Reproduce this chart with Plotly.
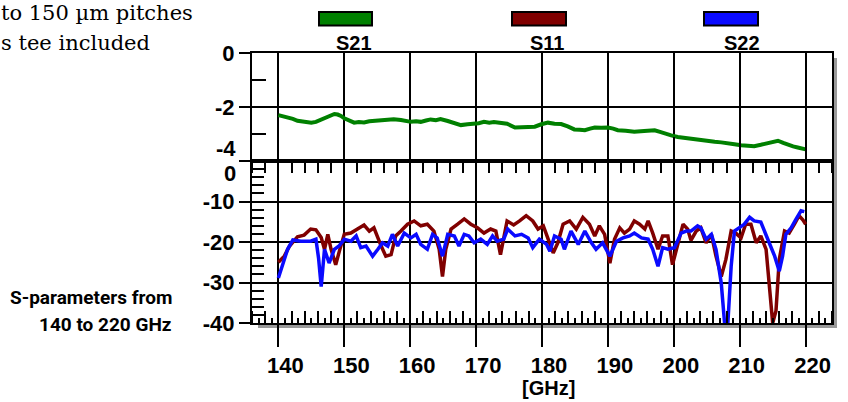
import plotly.graph_objects as go
from plotly.subplots import make_subplots

# ---------------- data ----------------
freq_s21 = [140.0, 140.7, 141.4, 142.2, 142.9, 143.6, 144.4, 145.0, 145.7, 146.3, 147.0, 147.7,
            148.5, 149.0, 149.5, 150.0, 150.7, 151.5, 152.2, 153.0, 153.8, 154.5, 155.5, 156.6,
            157.5, 158.6, 159.3, 160.1, 160.9, 161.6, 162.4, 163.1, 163.9, 164.6, 165.7, 166.7,
            167.7, 168.7, 169.7, 170.4, 171.2, 172.0, 172.7, 173.8, 174.7, 175.9, 176.8, 177.9,
            178.9, 179.9, 180.9, 181.9, 182.9, 183.9, 184.9, 185.7, 186.5, 187.3, 188.0, 189.0,
            190.0, 190.8, 191.5, 192.7, 194.0, 195.5, 197.1, 197.9, 198.6, 199.6, 200.6, 201.4,
            202.1, 203.1, 204.1, 205.2, 206.2, 207.2, 208.2, 209.2, 210.2, 211.2, 212.2, 213.2,
            214.2, 215.0, 215.8, 216.6, 217.3, 218.1, 218.8, 219.4, 220.0]
s21 = [-2.30, -2.34, -2.38, -2.44, -2.51, -2.54, -2.57, -2.58, -2.55, -2.49, -2.42, -2.37,
       -2.26, -2.28, -2.33, -2.42, -2.50, -2.58, -2.56, -2.57, -2.53, -2.52, -2.49, -2.48,
       -2.45, -2.48, -2.52, -2.55, -2.53, -2.55, -2.50, -2.46, -2.49, -2.45, -2.52, -2.60,
       -2.67, -2.64, -2.63, -2.60, -2.55, -2.58, -2.56, -2.61, -2.62, -2.76, -2.74, -2.72,
       -2.73, -2.64, -2.58, -2.62, -2.63, -2.72, -2.83, -2.84, -2.86, -2.80, -2.76, -2.77,
       -2.76, -2.80, -2.86, -2.88, -2.92, -2.89, -2.86, -2.92, -2.98, -3.05, -3.11, -3.14,
       -3.17, -3.20, -3.23, -3.26, -3.29, -3.31, -3.33, -3.38, -3.42, -3.44, -3.45, -3.40,
       -3.35, -3.30, -3.25, -3.33, -3.40, -3.46, -3.50, -3.53, -3.57]

freq_s11 = [140.0, 140.5, 140.9, 141.7, 142.9, 143.9, 144.9, 145.7, 146.5, 147.0, 147.5, 148.0,
            148.7, 149.3, 150.0, 151.0, 152.0, 153.0, 153.8, 154.5, 155.6, 156.3, 157.1, 157.8,
            158.6, 159.6, 160.6, 161.6, 162.6, 163.6, 164.4, 164.9, 165.4, 166.2, 167.2, 168.2,
            169.2, 170.2, 171.2, 172.2, 173.0, 173.7, 174.7, 175.7, 176.6, 177.6, 178.6, 179.4,
            180.2, 180.9, 181.7, 182.4, 183.2, 184.2, 185.2, 186.2, 187.2, 188.0, 188.7, 189.5,
            190.3, 191.0, 191.8, 192.5, 193.3, 194.0, 194.8, 195.6, 196.1, 196.8, 197.6, 198.3,
            199.1, 199.8, 200.6, 201.4, 202.1, 202.6, 203.4, 204.1, 204.9, 205.7, 206.4, 207.2,
            207.9, 208.7, 209.4, 210.2, 210.9, 211.7, 212.5, 213.2, 214.0, 214.5, 215.0, 215.5,
            216.0, 216.8, 217.5, 218.3, 219.0, 219.6, 220.0]
s11 = [-25.0, -24.0, -23.5, -21.0, -18.7, -18.3, -16.8, -17.0, -18.9, -21.8, -18.1, -21.8,
       -25.6, -22.0, -18.1, -17.8, -16.8, -15.8, -17.3, -16.5, -21.0, -23.5, -23.1, -18.5,
       -17.3, -15.6, -14.8, -16.0, -15.6, -17.3, -21.8, -28.5, -21.8, -16.8, -15.6, -14.3,
       -15.6, -16.5, -17.8, -16.8, -17.3, -23.1, -14.8, -15.8, -14.8, -13.5, -14.8, -16.8,
       -16.0, -19.3, -22.7, -20.2, -15.6, -14.8, -16.8, -13.9, -15.6, -18.5, -16.0, -18.1,
       -25.2, -19.3, -16.5, -17.8, -16.8, -14.8, -15.6, -16.8, -14.8, -17.8, -21.8, -18.5,
       -18.5, -25.6, -20.2, -15.6, -16.8, -19.6, -17.3, -16.5, -20.2, -18.1, -23.5, -28.5,
       -24.3, -17.3, -17.8, -19.0, -15.6, -15.6, -20.2, -18.5, -21.8, -30.2, -40.0, -37.0,
       -24.3, -17.3, -17.8, -15.6, -13.5, -14.6, -15.6]

freq_s22 = [140.0, 140.7, 141.4, 142.2, 143.4, 144.9, 145.7, 146.1, 146.5, 147.0, 147.7, 148.5,
            149.2, 150.0, 151.0, 151.8, 152.5, 153.3, 154.3, 155.1, 155.8, 156.6, 157.3, 158.1,
            159.1, 160.1, 160.9, 161.6, 162.6, 163.4, 164.1, 164.9, 165.7, 166.7, 167.4, 168.2,
            168.9, 169.7, 170.7, 171.7, 172.5, 173.2, 174.2, 174.8, 175.9, 176.9, 177.9, 178.6,
            179.6, 180.7, 181.2, 181.9, 182.9, 183.4, 184.4, 185.5, 186.5, 187.5, 188.2, 189.2,
            190.3, 191.3, 192.3, 193.3, 194.0, 195.1, 196.1, 196.8, 197.6, 198.3, 199.1, 200.1,
            201.1, 201.9, 202.6, 203.6, 204.1, 204.9, 205.7, 206.4, 207.2, 207.7, 208.2, 208.7,
            209.2, 209.9, 210.7, 211.5, 212.2, 213.2, 214.0, 214.7, 215.3, 216.0, 216.5, 217.0,
            217.8, 218.5, 219.3, 219.8]
s22 = [-28.9, -25.6, -21.8, -19.5, -19.8, -19.8, -19.3, -24.0, -31.0, -21.8, -25.2, -21.8,
       -21.0, -19.3, -19.8, -18.5, -21.4, -21.0, -23.5, -21.8, -20.2, -21.0, -18.1, -21.0,
       -17.8, -19.0, -18.1, -20.6, -21.8, -18.1, -19.0, -23.5, -18.1, -18.5, -21.0, -18.1,
       -18.5, -20.2, -19.3, -20.6, -18.5, -19.8, -19.3, -16.8, -18.5, -18.1, -19.0, -21.4,
       -19.3, -20.6, -22.3, -18.5, -19.3, -21.8, -17.3, -20.6, -17.3, -20.2, -21.8, -20.2,
       -23.5, -19.8, -19.0, -18.5, -17.8, -19.0, -19.3, -21.8, -26.0, -21.4, -21.8, -21.4,
       -17.8, -17.3, -17.3, -16.0, -16.5, -19.3, -18.1, -21.8, -30.2, -40.0, -40.0, -26.0,
       -17.3, -16.5, -15.6, -13.9, -14.8, -15.1, -18.5, -21.0, -23.5, -27.2, -23.5, -18.1,
       -16.5, -14.5, -12.3, -12.5]

series_names = ["S21", "S11", "S22"]
series_colors = ["#008000", "#800000", "#0a0aff"]

x_range = [136, 224]
x_tickvals = [140, 150, 160, 170, 180, 190, 200, 210, 220]
x_ticktext = ["140", "150", "160", "170", "180", "190", "200", "210", "220"]
x_minor_2ghz = [136 + 2 * i for i in range(45)]
x_minor_1ghz = [136 + i for i in range(89)]

top_range = [-4, 0]
top_tickvals = [0, -2, -4]
top_ticktext = ["0", "-2", ""]
top_minor = [-1, -3]

bot_range = [-40, 0]
bot_tickvals = [0, -10, -20, -30, -40]
bot_ticktext = ["", "-10", "-20", "-30", "-40"]
bot_minor = [-2 * i for i in range(1, 20) if (2 * i) % 10 != 0]

# ---------------- layout geometry ----------------
W, H = 848, 402
L, R, T, B = 252, 16, 53, 79
PW, PH = W - L - R, H - T - B


def px(x):
    return (x - L) / PW


def py(y):
    return (H - B - y) / PH


FONT = "Liberation Sans, Arial, sans-serif"

fig = make_subplots(rows=2, cols=1, shared_xaxes=True, vertical_spacing=0,
                    row_heights=[0.4, 0.6])

fig.add_trace(go.Scatter(x=freq_s21, y=s21, mode="lines", name=series_names[0],
                         line=dict(color=series_colors[0], width=4)), row=1, col=1)
fig.add_trace(go.Scatter(x=freq_s11, y=s11, mode="lines", name=series_names[1],
                         line=dict(color=series_colors[1], width=3.5)), row=2, col=1)
fig.add_trace(go.Scatter(x=freq_s22, y=s22, mode="lines", name=series_names[2],
                         line=dict(color=series_colors[2], width=3.5)), row=2, col=1)
# carrier for the fine 1 GHz tick axis
fig.add_trace(go.Scatter(x=[], y=[], xaxis="x3", yaxis="y2", showlegend=False))

grid = dict(showgrid=True, gridcolor="black", gridwidth=2, zeroline=False,
            showline=True, linecolor="black", linewidth=2)

fig.update_layout(
    width=W, height=H, margin=dict(l=L, r=R, t=T, b=B),
    paper_bgcolor="white", plot_bgcolor="white", showlegend=False,
    xaxis=dict(range=x_range, tickmode="array", tickvals=x_tickvals,
               showticklabels=False, ticks="", mirror=True, **grid),
    xaxis2=dict(range=x_range, tickmode="array", tickvals=x_tickvals, ticktext=x_ticktext,
                ticks="outside", ticklen=22, tickwidth=2, tickcolor="black",
                ticklabelshift=7, ticklabelstandoff=0,
                tickfont=dict(family=FONT, size=22, color="black", weight="bold"),
                mirror="ticks",
                minor=dict(tickmode="array", tickvals=x_minor_2ghz, ticks="inside",
                           ticklen=12, tickwidth=2, tickcolor="black", showgrid=False),
                **grid),
    xaxis3=dict(range=x_range, overlaying="x2", anchor="y2", side="bottom",
                tickmode="array", tickvals=x_minor_1ghz, ticks="inside", ticklen=5,
                tickwidth=1.5, tickcolor="black", showticklabels=False,
                showgrid=False, zeroline=False, showline=False),
    yaxis=dict(range=top_range, tickmode="array", tickvals=top_tickvals, ticktext=top_ticktext,
               ticks="outside", ticklen=11, tickwidth=2, tickcolor="black",
               tickfont=dict(family=FONT, size=22, color="black", weight="bold"),
               minor=dict(tickmode="array", tickvals=top_minor, ticks="inside", ticklen=14,
                          tickwidth=2, tickcolor="black", showgrid=False),
               mirror=True, **grid),
    yaxis2=dict(range=bot_range, tickmode="array", tickvals=bot_tickvals, ticktext=bot_ticktext,
                ticks="outside", ticklen=11, tickwidth=2, tickcolor="black",
                tickfont=dict(family=FONT, size=22, color="black", weight="bold"),
                minor=dict(tickmode="array", tickvals=bot_minor, ticks="inside", ticklen=12,
                           tickwidth=2, tickcolor="black", showgrid=False),
                mirror=True, **grid),
)

shapes = []
# drop shadow of the plot frame
shadow = "#9a9a9a"
shapes.append(dict(type="rect", xref="paper", yref="paper", layer="below",
                   x0=1 + 1 / PW, x1=1 + 5 / PW, y0=-5 / PH, y1=1 - 5 / PH,
                   fillcolor=shadow, line=dict(width=0)))
shapes.append(dict(type="rect", xref="paper", yref="paper", layer="below",
                   x0=6 / PW, x1=1 + 5 / PW, y0=-5 / PH, y1=-1 / PH,
                   fillcolor=shadow, line=dict(width=0)))

# legend swatches + labels
legend_rects = [(319, 372), (512, 566), (704, 758)]
legend_label_x = [354, 547, 742]
annotations = []
for name, col, (a, b), lx in zip(series_names, series_colors, legend_rects, legend_label_x):
    shapes.append(dict(type="rect", xref="paper", yref="paper",
                       x0=px(a), x1=px(b), y0=py(25.5), y1=py(12),
                       fillcolor=col, line=dict(color="black", width=2)))
    annotations.append(dict(text=name, xref="paper", yref="paper", x=px(lx), y=py(43),
                            xanchor="center", yanchor="middle", showarrow=False,
                            font=dict(family=FONT, size=20, color="black", weight="bold")))

# edge y labels that are nudged inside the frame
annotations.append(dict(text="-4", xref="paper", yref="y", x=0, y=-4, xshift=-14, yshift=13,
                        xanchor="right", yanchor="middle", showarrow=False,
                        font=dict(family=FONT, size=22, color="black", weight="bold")))
annotations.append(dict(text="0", xref="paper", yref="y2", x=0, y=0, xshift=-14, yshift=-12,
                        xanchor="right", yanchor="middle", showarrow=False,
                        font=dict(family=FONT, size=22, color="black", weight="bold")))

# x axis unit
annotations.append(dict(text="[GHz]", xref="paper", yref="paper", x=px(548), y=py(388),
                        xanchor="center", yanchor="middle", showarrow=False,
                        font=dict(family=FONT, size=20, color="black", weight="bold")))

# surrounding page text
serif = dict(family="DejaVu Serif, Liberation Serif, serif", size=21, color="black")
annotations.append(dict(text="to 150 µm pitches", xref="paper", yref="paper",
                        x=px(-1), y=py(13), xanchor="left", yanchor="middle",
                        showarrow=False, font=serif))
annotations.append(dict(text="s tee included", xref="paper", yref="paper",
                        x=px(-1), y=py(43), xanchor="left", yanchor="middle",
                        showarrow=False, font=serif))
cond = dict(family="Roboto, Liberation Sans, sans-serif", size=19, color="black", weight="bold")
annotations.append(dict(text="S-parameters from", xref="paper", yref="paper",
                        x=px(174), y=py(297), xanchor="right", yanchor="middle",
                        showarrow=False, font=cond))
annotations.append(dict(text="140 to 220 GHz", xref="paper", yref="paper",
                        x=px(174), y=py(324), xanchor="right", yanchor="middle",
                        showarrow=False, font=cond))

fig.update_layout(shapes=shapes, annotations=annotations)

fig.write_html("out.html", config={"displayModeBar": False},
               post_script="document.body.style.margin='0';document.body.style.overflow='hidden';")
